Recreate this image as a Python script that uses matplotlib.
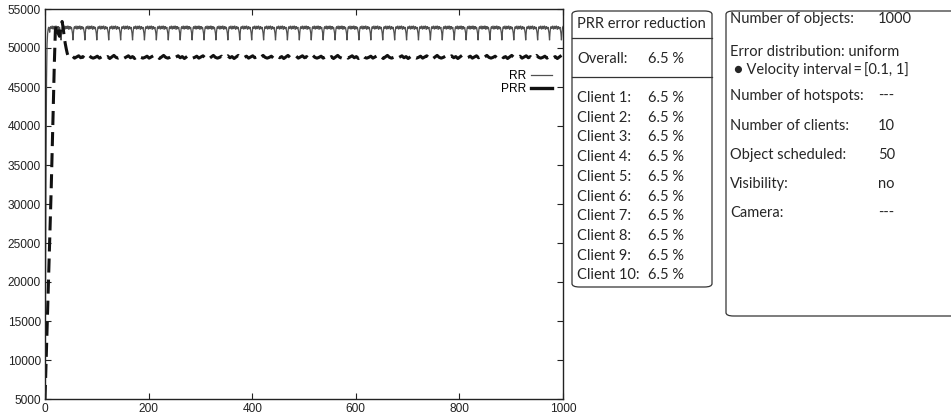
import numpy as np
import matplotlib
matplotlib.use("Agg")
import matplotlib.pyplot as plt
from matplotlib.patches import FancyBboxPatch
from matplotlib.lines import Line2D

# ---- data -------------------------------------------------------------
x_max = 1000

# RR: initial climb (x = 0..8), then a repeating cycle that ends in a dip
rr_rise = [5000, 21000, 36000, 46000, 50500, 51800, 52400, 52700, 52500]
rr_cycle = [52000, 52600, 52750, 52450, 52650, 52850, 52500, 52400, 52750,
            52800, 52450, 52550, 52850, 52700, 52350, 52600, 52800, 52500,
            52450, 52700, 52300, 51900, 51000]

# PRR: start-up transient (x, value) then the steady wiggle around 48.8k
prr_start_x = [0, 2, 4, 6, 8, 10, 12, 14, 16, 18, 20, 22, 24, 26, 28, 30,
               33, 35, 37, 39, 41, 43, 45]
prr_start_y = [5000, 9500, 14000, 18500, 23000, 27500, 32000, 37000, 42500,
               48000, 52200, 53000, 52500, 51800, 51500, 52300, 53400, 52600,
               51500, 50600, 49900, 49300, 48900]
prr_step = 4
prr_cycle = [48800, 48950, 48700, 48850, 49000, 48750, 48900, 48650,
             48850, 49050, 48800, 48700]

x_ticks = [0, 200, 400, 600, 800, 1000]
y_ticks = list(range(5000, 55001, 5000))

reduction_title = "PRR error reduction"
overall_label, overall_value = "Overall:", "6.5 %"
client_names = [f"Client {i}:" for i in range(1, 11)]
client_values = ["6.5 %"] * 10

info_rows = [
    ("Number of objects:", "1000"),
    ("Error distribution: uniform", None),
    ("\u25cf Velocity interval\u2009=\u2009[0.1, 1]", None),
    ("Number of hotspots:", "---"),
    ("Number of clients:", "10"),
    ("Object scheduled:", "50"),
    ("Visibility:", "no"),
    ("Camera:", "---"),
]

# ---- build series -----------------------------------------------------
rr_x = np.arange(0, x_max + 1)
n_tail = len(rr_x) - len(rr_rise)
reps = n_tail // len(rr_cycle) + 1
rr_y = np.concatenate([rr_rise, np.tile(rr_cycle, reps)[:n_tail]])

prr_tail_x = np.arange(prr_start_x[-1] + prr_step, x_max + 1, prr_step)
reps = len(prr_tail_x) // len(prr_cycle) + 1
prr_tail_y = np.tile(prr_cycle, reps)[:len(prr_tail_x)]
prr_x = np.concatenate([prr_start_x, prr_tail_x])
prr_y = np.concatenate([prr_start_y, prr_tail_y])

# ---- figure -----------------------------------------------------------
W, H = 951, 419
fig = plt.figure(figsize=(W / 100, H / 100), dpi=100)

def fx(px):
    return px / W

def fy(py):
    return 1 - py / H

ax = fig.add_axes([fx(45), fy(399), fx(563) - fx(45), fy(9) - fy(399)])
ax.plot(rr_x, rr_y, color="#505050", lw=0.9, solid_joinstyle="miter")
ax.plot(prr_x, prr_y, color="#111111", lw=2.2,
        linestyle=(0, (4.6, 2.3)), dash_capstyle="butt")

ax.set_xlim(0, x_max)
ax.set_ylim(5000, 55000)
ax.set_xticks(x_ticks)
ax.set_yticks(y_ticks)
tick_font = dict(family="Liberation Sans", size=8.6)
ax.set_xticklabels([str(t) for t in x_ticks], **tick_font)
ax.set_yticklabels([str(t) for t in y_ticks], **tick_font)
ax.tick_params(direction="in", length=4, width=0.8, top=True, right=True,
               pad=3, colors="#222222")
for s in ax.spines.values():
    s.set_linewidth(1.0)
    s.set_color("#222222")

# legend: label on the left, line sample on the right
leg_handles = [Line2D([], [], color="#505050", lw=0.9),
               Line2D([], [], color="#111111", lw=2.4)]
leg = ax.legend(leg_handles, ["RR", "PRR"], loc="upper right",
                bbox_to_anchor=(1.0, 0.87), frameon=False, markerfirst=False,
                handlelength=1.8, handletextpad=0.4, labelspacing=0.05,
                prop=dict(family="Liberation Sans", size=8.6))

# ---- side panels ------------------------------------------------------
panel_font = dict(family="Lato", size=10.5, color="#262626")

def rounded_box(x0, y0, x1, y1):
    box = FancyBboxPatch((fx(x0), fy(y1)), fx(x1) - fx(x0), fy(y0) - fy(y1),
                         boxstyle="round,pad=0,rounding_size=0.008",
                         transform=fig.transFigure, fill=False,
                         lw=0.9, edgecolor="#333333", clip_on=False)
    fig.add_artist(box)

# error reduction panel
rounded_box(572, 11, 712, 287)
for yy in (38, 77):
    fig.add_artist(Line2D([fx(572), fx(712)], [fy(yy), fy(yy)],
                          transform=fig.transFigure, lw=0.9, color="#333333"))
fig.text(fx(577), fy(24), reduction_title, va="center", **panel_font)
fig.text(fx(577), fy(59), overall_label, va="center", **panel_font)
fig.text(fx(648), fy(59), overall_value, va="center", **panel_font)
for i, (name, val) in enumerate(zip(client_names, client_values)):
    yy = 98 + i * 19.7
    fig.text(fx(577), fy(yy), name, va="center", **panel_font)
    fig.text(fx(648), fy(yy), val, va="center", **panel_font)

# scenario panel (runs off the right edge)
rounded_box(726, 11, 965, 316)
info_y = [19, 52, 70, 96, 126, 155, 184, 213]
for (label, val), yy in zip(info_rows, info_y):
    xx = 734 if label.startswith("\u25cf") else 730
    fig.text(fx(xx), fy(yy), label, va="center", **panel_font)
    if val is not None:
        fig.text(fx(878), fy(yy), val, va="center", **panel_font)

fig.savefig("out.png", dpi=100)
